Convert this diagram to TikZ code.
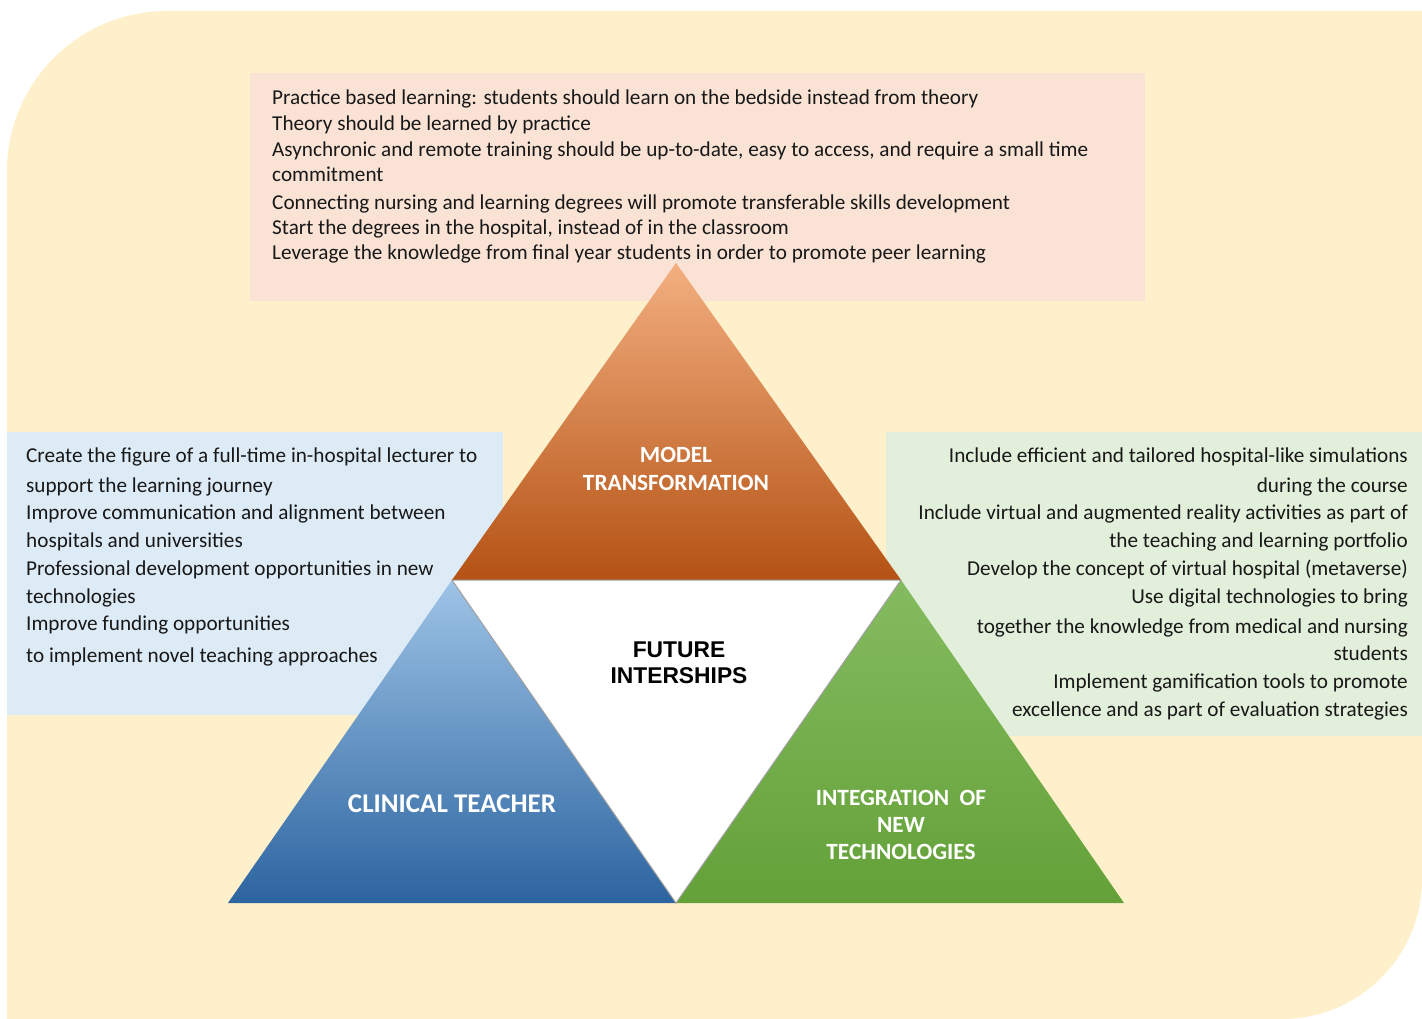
\documentclass[tikz,border=0pt]{standalone}
\usepackage{fontspec}
\setmainfont{Carlito}
\newfontfamily\arialfont{Liberation Sans}
\usetikzlibrary{positioning,calc}

\definecolor{bgyellow}{RGB}{255,240,204}
\definecolor{boxpink}{RGB}{250,227,213}
\definecolor{boxblue}{RGB}{221,235,247}
\definecolor{boxgreen}{RGB}{226,239,218}
\definecolor{txtgray}{RGB}{24,24,24}
\definecolor{orgtop}{RGB}{243,175,128}
\definecolor{orgmid}{RGB}{237,127,52}
\definecolor{orgbot}{RGB}{180,82,20}
\definecolor{blutop}{RGB}{158,196,230}
\definecolor{blumid}{RGB}{93,156,213}
\definecolor{blubot}{RGB}{44,100,160}
\definecolor{grntop}{RGB}{132,187,96}
\definecolor{grnmid}{RGB}{112,173,71}
\definecolor{grnbot}{RGB}{100,161,56}

\tikzset{
  itemtext/.style={font=\fontsize{21.2}{25}\selectfont, text=txtgray, inner sep=0pt},
  pillar/.style={font=\fontsize{23.3}{27}\selectfont\bfseries, text=white, inner sep=0pt},
}

\begin{document}
\begin{tikzpicture}[x=1pt, y=-1pt]
    \useasboundingbox (0,0) rectangle (1422,1019);

    % rounded background panel
    \fill[bgyellow] (7,1019) -- (7,171) arc[start angle=180, end angle=270, radius=160]
        -- (1422,11) -- (1422,879) arc[start angle=0, end angle=90, radius=140] -- cycle;

    % text panels
    \fill[boxpink] (250,73) rectangle (1145,301);
    \fill[boxblue] (7,432) rectangle (503,715);
    \fill[boxgreen] (886,432) rectangle (1422,736);

    % corners of the triangles
    \coordinate (T) at (676,263);
    \coordinate (L) at (452,580);
    \coordinate (R) at (901,580);
    \coordinate (B) at (676,903);
    \coordinate (BL) at (228,903);
    \coordinate (BR) at (1124,903);

    \shade[top color=orgtop, middle color=orgmid, bottom color=orgbot] (T) -- (R) -- (L) -- cycle;
    \shade[top color=blutop, middle color=blumid, bottom color=blubot] (L) -- (B) -- (BL) -- cycle;
    \shade[top color=grntop, middle color=grnmid, bottom color=grnbot] (R) -- (BR) -- (B) -- cycle;
    \filldraw[fill=white, draw=gray!75, line width=1] (L) -- (R) -- (B) -- cycle;

    % labels of the four triangles (base = last line)
    \node[pillar, align=center, anchor=base] (model) at (676,490) {MODEL\\[1pt]TRANSFORMATION};
    \node[pillar, font=\fontsize{27}{30}\selectfont\bfseries, anchor=base] (clinical) at (452,812) {CLINICAL TEACHER};
    \node[pillar, align=center, anchor=base] (integ) at (901,859) {INTEGRATION\ \ OF\\NEW\\TECHNOLOGIES};
    \node[font=\fontsize{22.8}{26}\arialfont\bfseries, align=center, anchor=base, inner sep=0pt] (future)
        at (679,683) {FUTURE\\INTERSHIPS};

    % model transformation items
    \foreach \txt/\yy [count=\i] in {
        {Practice based learning: students should learn on the bedside instead from theory}/105,
        {Theory should be learned by practice}/131,
        {Asynchronic and remote training should be up-to-date, easy to access, and require a small time}/157,
        {commitment}/182,
        {Connecting nursing and learning degrees will promote transferable skills development}/210,
        {Start the degrees in the hospital, instead of in the classroom}/235,
        {Leverage the knowledge from final year students in order to promote peer learning}/260}
      \node[itemtext, anchor=base west] (top\i) at (272,\yy) {\txt};

    % clinical teacher items
    \foreach \txt/\yy [count=\i] in {
        {Create the figure of a full-time in-hospital lecturer to}/462,
        {support the learning journey}/492,
        {Improve communication and alignment between}/519,
        {hospitals and universities}/547,
        {Professional development opportunities in new}/575,
        {technologies}/603,
        {Improve funding opportunities}/630,
        {to implement novel teaching approaches}/662}
      \node[itemtext, anchor=base west] (left\i) at (26,\yy) {\txt};

    % new technologies items
    \foreach \txt/\yy [count=\i] in {
        {Include efficient and tailored hospital-like simulations}/462,
        {during the course}/492,
        {Include virtual and augmented reality activities as part of}/519,
        {the teaching and learning portfolio}/547,
        {Develop the concept of virtual hospital (metaverse)}/575,
        {Use digital technologies to bring}/603,
        {together the knowledge from medical and nursing}/633,
        {students}/660,
        {Implement gamification tools to promote}/688,
        {excellence and as part of evaluation strategies}/716}
      \node[itemtext, anchor=base east] (right\i) at (1408,\yy) {\txt};
\end{tikzpicture}
\end{document}
